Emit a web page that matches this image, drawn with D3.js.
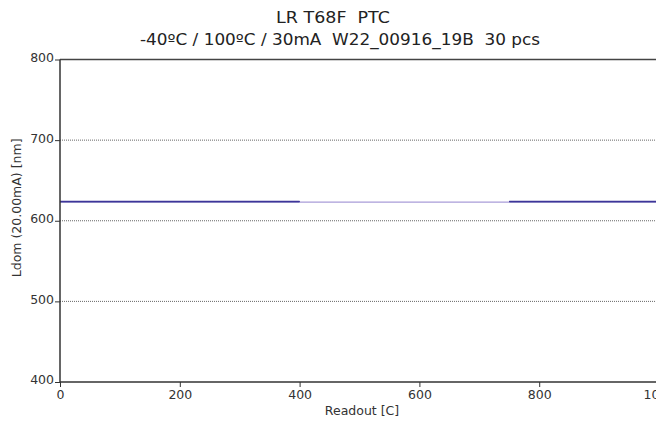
<!DOCTYPE html>
<html><head><meta charset="utf-8">
<script src="https://cdn.jsdelivr.net/npm/d3@7"></script>
<style>body{margin:0;background:#fff;} text{font-family:"DejaVu Sans",sans-serif; white-space:pre;}</style>
</head><body>
<svg id="c" width="656" height="427"></svg>
<script>
const titleLines = ["LR T68F  PTC", "-40ºC / 100ºC / 30mA  W22_00916_19B  30 pcs"];
const titleCenters = [333, 340];
const titleWidths = [114, 400];
const xLabel = "Readout [C]";
const yLabel = "Ldom (20.00mA) [nm]";
const xTicks = [0, 200, 400, 600, 800, 1000];
const yTicks = [400, 500, 600, 700, 800];
const gridValues = [500, 600, 700];
const readoutsEarly = [0, 400];
const readoutsLate = [750, 1000];
const seriesEarly = [[623.7, 623.7], [623.3, 623.3], [624.0, 624.0]];
const seriesLate = [[623.7, 623.7], [623.3, 623.3], [624.0, 624.0]];
const bridgeReadouts = [400, 750];
const bridgeValues = [623.2, 623.2];

const svg = d3.select("#c");
const x = d3.scaleLinear().domain([0, 1000]).range([60, 659]);
const y = d3.scaleLinear().domain([400, 800]).range([382, 59.5]);

svg.append("g").selectAll("text").data(titleLines).join("text")
  .attr("x", (d,i)=>titleCenters[i]).attr("y", (d,i)=>23 + i*22).attr("text-anchor","middle")
  .attr("font-size", 15.5).attr("fill","#222").attr("textLength",(d,i)=>titleWidths[i])
  .attr("lengthAdjust","spacingAndGlyphs").text(d=>d);

// grid
svg.append("g").selectAll("line").data(gridValues).join("line")
  .attr("x1", 60).attr("x2", 659).attr("y1", d=>y(d)).attr("y2", d=>y(d))
  .attr("stroke","#666").attr("stroke-width",1).attr("stroke-dasharray","1,1");
// top border
svg.append("line").attr("x1",60).attr("x2",659).attr("y1",y(800)).attr("y2",y(800))
  .attr("stroke","#444").attr("stroke-width",1.5);

const line = d3.line().x(d=>x(d[0])).y(d=>y(d[1]));
svg.append("path").datum(bridgeReadouts.map((r,i)=>[r,bridgeValues[i]]))
  .attr("d", line).attr("fill","none").attr("stroke","#a99cd8").attr("stroke-width",1.2);
seriesEarly.forEach(s=>{
  svg.append("path").datum(readoutsEarly.map((r,i)=>[r,s[i]]))
    .attr("d", line).attr("fill","none").attr("stroke","#3d3599").attr("stroke-width",1.2);
});
seriesLate.forEach(s=>{
  svg.append("path").datum(readoutsLate.map((r,i)=>[r,s[i]]))
    .attr("d", line).attr("fill","none").attr("stroke","#3d3599").attr("stroke-width",1.2);
});

const xa = svg.append("g").attr("transform",`translate(0,${y(400)})`)
  .call(d3.axisBottom(x).tickValues(xTicks).tickSize(5).tickFormat(d3.format("d")));
const ya = svg.append("g").attr("transform",`translate(60,0)`)
  .call(d3.axisLeft(y).tickValues(yTicks).tickSize(5).tickFormat(d3.format("d")));
[xa, ya].forEach(a=>{
  a.select(".domain").attr("stroke","#333").attr("stroke-width",1.5);
  a.selectAll(".tick line").attr("stroke","#333");
  a.selectAll(".tick text").attr("font-size",12.5).attr("fill","#333")
    .attr("font-family",'"DejaVu Sans",sans-serif');
});
xa.selectAll(".tick text").attr("y",7).attr("dy","0.8em");
ya.select(".domain").attr("d", `M-0,${y(800)}V${y(400)}`);
xa.select(".domain").attr("d", `M60,0H659`);
ya.selectAll(".tick text").attr("x",-6).attr("dy","0.15em");

svg.append("text").attr("x", 362).attr("y", 415).attr("text-anchor","middle")
  .attr("font-size",12.5).attr("fill","#333").text(xLabel);
svg.append("text").attr("transform",`translate(21,${y(616)}) rotate(-90)`)
  .attr("text-anchor","middle").attr("font-size",12.5).attr("fill","#333").text(yLabel);
</script>
</body></html>
